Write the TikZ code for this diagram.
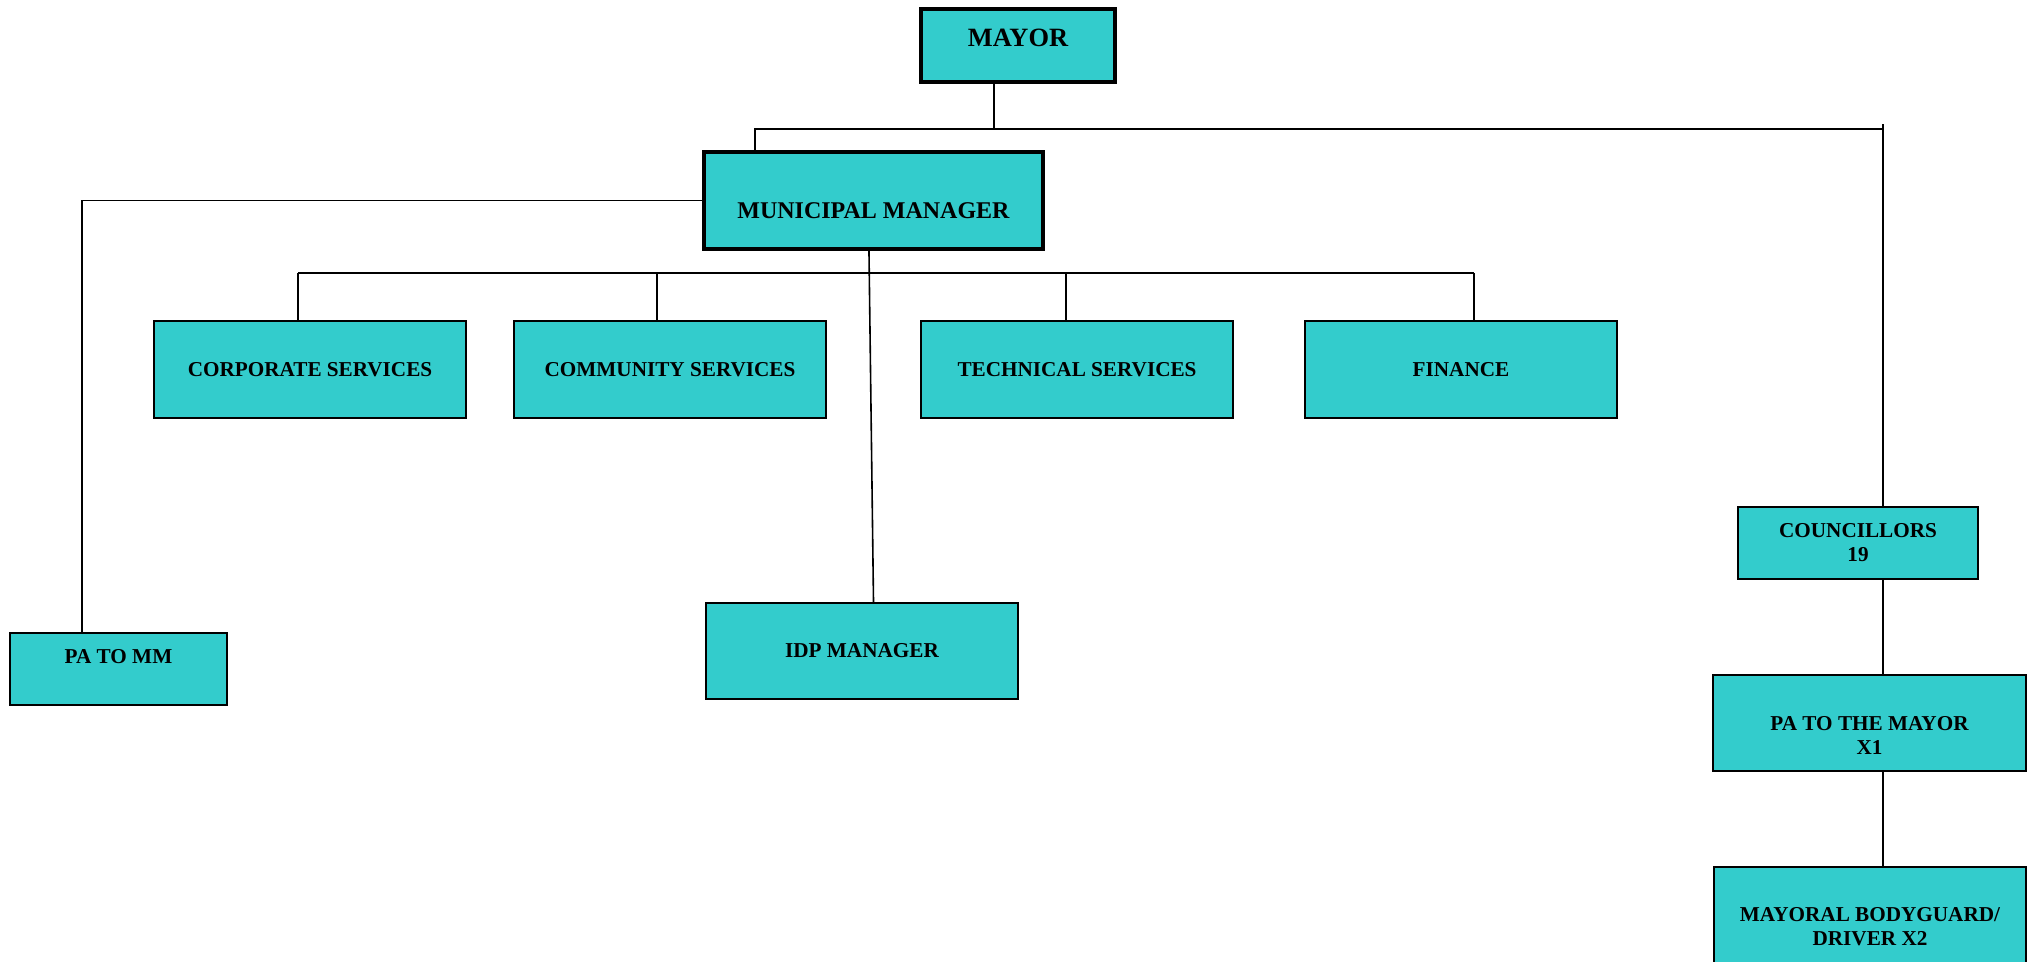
\documentclass[tikz,border=0pt]{standalone}
\usepackage{fontspec}
\setmainfont{Liberation Serif}
\definecolor{postfill}{RGB}{51,204,204}
\tikzset{every picture/.style={line width=0.75pt}}
\tikzset{
  post/.style={draw, fill=postfill, line width=1.3pt, inner sep=0pt, align=center,
    font=\fontsize{15.9}{18}\selectfont\bfseries},
  headpost/.style={post, line width=3pt},
  posttext/.style={inner sep=0pt, align=center, font=\fontsize{15.9}{18}\selectfont\bfseries},
  link/.style={line width=1.2pt}
}

\begin{document}
\begin{tikzpicture}[x=0.75pt,y=0.75pt,yscale=-1,xscale=1]
\useasboundingbox (0,0) rectangle (2040,961);

%Shape: Rectangle [mayor]
\node[headpost, minimum width=145.5pt, minimum height=54.75pt,
  label={[posttext, font=\fontsize{19.8}{22}\selectfont\bfseries, yshift=6pt]center:MAYOR}] (mayor) at (1018,45.5) {};
%Shape: Rectangle [municipal manager]
\node[headpost, minimum width=254.25pt, minimum height=72.75pt,
  label={[posttext, font=\fontsize{18}{21}\selectfont\bfseries, yshift=-7.5pt]center:MUNICIPAL MANAGER}] (mm) at (873.5,200.5) {};

%Shape: Rectangle [departments]
\node[post, minimum width=234pt, minimum height=72.75pt] (corp) at (310,369.5) {CORPORATE SERVICES};
\node[post, minimum width=234pt, minimum height=72.75pt] (comm) at (670,369.5) {COMMUNITY SERVICES};
\node[post, minimum width=234pt, minimum height=72.75pt] (tech) at (1077,369.5) {TECHNICAL SERVICES};
\node[post, minimum width=234pt, minimum height=72.75pt] (fin) at (1461,369.5) {FINANCE};

%Shape: Rectangle [pa to mm, idp]
\node[post, minimum width=162.75pt, minimum height=54pt,
  label={[posttext, yshift=9pt]center:PA TO MM}] (pamm) at (118.5,669) {};
\node[post, minimum width=234pt, minimum height=72pt] (idp) at (862,651) {IDP MANAGER};

%Shape: Rectangle [mayor's office]
\node[post, minimum width=180pt, minimum height=54pt] (counc) at (1858,543) {COUNCILLORS\\19};
\node[post, minimum width=234.75pt, minimum height=72pt,
  label={[posttext, yshift=-9pt]center:PA TO THE MAYOR\\X1}] (patm) at (1869.5,723) {};
\node[post, minimum width=234pt, minimum height=72pt,
  label={[posttext, yshift=-9pt]center:MAYORAL BODYGUARD/\\DRIVER X2}] (body) at (1870,915) {};

%Straight Lines [mayor bus]
\coordinate (mbus) at (994,129);
\coordinate (busL) at (755,129);
\coordinate (busR) at (1883,124);
\draw[link] (mayor.south -| mbus) -- (mbus);
\draw[link] (busL |- mm.north) -- (busL) -- (busR |- mbus);
\draw[link] (busR) -- (busR |- counc.north);
\draw[link] (counc.south -| busR) -- (patm.north -| busR);
\draw[link] (patm.south -| busR) -- (body.north -| busR);

%Straight Lines [pa to mm]
\coordinate (pabend) at (82,200.5);
\draw[link] (mm.west) -- (pabend) -- (pabend |- pamm.north);

%Straight Lines [idp]
\draw[link] ([xshift=-3.4pt]mm.south) -- (idp.north -| mm.south);

%Straight Lines [department bus]
\coordinate (dbusL) at (298,273);
\coordinate (dbusR) at (1474,273);
\draw[link] (dbusL) -- (dbusR);
\foreach \n/\x in {corp/298,comm/657,tech/1066,fin/1474}{
  \coordinate (\n-drop) at (\x,273);
  \draw[link] (\n-drop) -- (\n-drop |- \n.north);
}

\end{tikzpicture}
\end{document}
